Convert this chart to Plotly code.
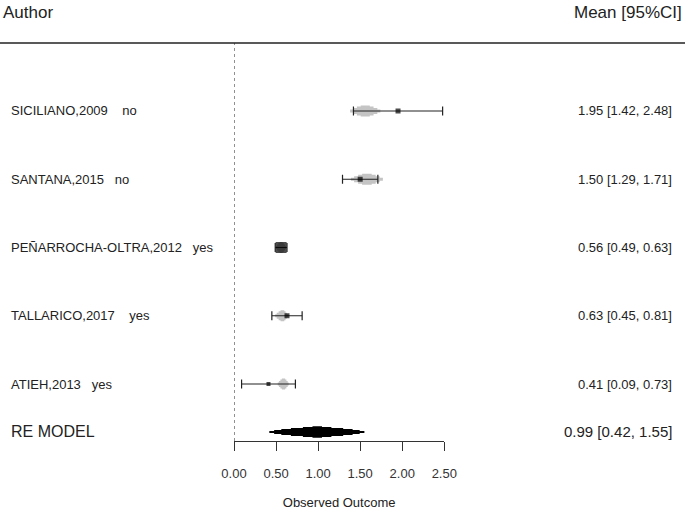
import plotly.graph_objects as go

# ---- data ----
authors = ["SICILIANO,2009", "SANTANA,2015", "PEÑARROCHA-OLTRA,2012", "TALLARICO,2017", "ATIEH,2013"]
groups = ["no", "no", "yes", "yes", "yes"]
gaps = [4, 3, 3, 4, 3]
means = [1.95, 1.50, 0.56, 0.63, 0.41]
lows = [1.42, 1.29, 0.49, 0.45, 0.09]
highs = [2.48, 1.71, 0.63, 0.81, 0.73]
weights_px = [5, 5, 11, 5, 4]
# grey density blobs behind each study
blob_lo = [1.38, 1.39, 0.50, 0.49, 0.52]
blob_mid = [1.56, 1.58, 0.56, 0.58, 0.59]
blob_hi = [1.74, 1.77, 0.62, 0.64, 0.65]
rows = [5, 4, 3, 2, 1]

re_label = "RE MODEL"
re_mean, re_low, re_high = 0.99, 0.42, 1.55
re_row = 0.297

tick_vals = [0.0, 0.5, 1.0, 1.5, 2.0, 2.5]
tick_text = ["0.00", "0.50", "1.00", "1.50", "2.00", "2.50"]

PX = 68.26  # pixels per y unit


def stepped(center, lo, hi, y, fracs, halfh_px):
    xs, ys = [], []
    lefts = [center - f * (center - lo) for f in fracs]
    rights = [center + f * (hi - center) for f in fracs]
    hs = [h / PX for h in halfh_px]
    for i in range(len(fracs)):
        xs += [lefts[i], lefts[i]]
        ys += [y + (hs[i - 1] if i > 0 else 0), y + hs[i]]
    for i in reversed(range(len(fracs))):
        xs += [rights[i], rights[i]]
        ys += [y + hs[i], y + (hs[i - 1] if i > 0 else 0)]
    for i in range(len(fracs)):
        xs += [rights[i], rights[i]]
        ys += [y - (hs[i - 1] if i > 0 else 0), y - hs[i]]
    for i in reversed(range(len(fracs))):
        xs += [lefts[i], lefts[i]]
        ys += [y - hs[i], y - (hs[i - 1] if i > 0 else 0)]
    return xs, ys


fig = go.Figure()

# grey blobs
for i in range(len(authors)):
    bx, by = stepped(blob_mid[i], blob_lo[i], blob_hi[i], rows[i],
                     [1.0, 0.8, 0.55, 0.3], [1.5, 3.0, 4.5, 5.5])
    fig.add_trace(go.Scatter(x=bx, y=by, fill="toself", fillcolor="#c4c4c4",
                             line=dict(width=0, color="#c4c4c4"), mode="lines",
                             hoverinfo="skip", showlegend=False))

# whiskers
cap = 4.5 / PX
for i in range(len(authors)):
    fig.add_trace(go.Scatter(
        x=[lows[i], highs[i], None, lows[i], lows[i], None, highs[i], highs[i]],
        y=[rows[i], rows[i], None, rows[i] - cap, rows[i] + cap, None, rows[i] - cap, rows[i] + cap],
        mode="lines", line=dict(color="#222222", width=1.2),
        hoverinfo="skip", showlegend=False))

# squares
fig.add_trace(go.Scatter(x=means, y=rows, mode="markers",
                         marker=dict(symbol="square", size=weights_px, color="black",
                                     line=dict(width=0)),
                         showlegend=False, hoverinfo="x"))

# RE polygon
rx, ry = stepped(re_mean, re_low, re_high, re_row,
                 [1.0, 0.9, 0.75, 0.55, 0.3, 0.1], [1.0, 2.0, 3.0, 4.0, 5.0, 5.8])
fig.add_trace(go.Scatter(x=rx, y=ry, fill="toself", fillcolor="black",
                         line=dict(width=0, color="black"), mode="lines",
                         hoverinfo="skip", showlegend=False))

W, H = 685, 511
ann = []
FONT = "Liberation Sans, Arial, sans-serif"
for i in range(len(authors)):
    ann.append(dict(x=9 / W, xref="paper", y=rows[i], yref="y",
                    text=authors[i] + "\u00a0" * gaps[i] + groups[i],
                    showarrow=False, xanchor="left", yanchor="middle",
                    font=dict(family=FONT, size=13, color="#222")))
    ann.append(dict(x=674 / W, xref="paper", y=rows[i], yref="y",
                    text=f"{means[i]:.2f} [{lows[i]:.2f}, {highs[i]:.2f}]",
                    showarrow=False, xanchor="right", yanchor="middle",
                    font=dict(family=FONT, size=13, color="#222")))
ann.append(dict(x=9 / W, xref="paper", y=re_row, yref="y", text=re_label,
                showarrow=False, xanchor="left", yanchor="middle",
                font=dict(family=FONT, size=16, color="#222")))
ann.append(dict(x=674 / W, xref="paper", y=re_row, yref="y",
                text=f"{re_mean:.2f} [{re_low:.2f}, {re_high:.2f}]",
                showarrow=False, xanchor="right", yanchor="middle",
                font=dict(family=FONT, size=15, color="#222")))
ann.append(dict(x=1 / W, xref="paper", y=1, yref="paper", yshift=31, text="Author",
                showarrow=False, xanchor="left", yanchor="middle",
                font=dict(family=FONT, size=17, color="#222")))
ann.append(dict(x=684 / W, xref="paper", y=1, yref="paper", yshift=31, text="Mean [95%CI]",
                showarrow=False, xanchor="right", yanchor="middle",
                font=dict(family=FONT, size=17, color="#222")))

shapes = [
    dict(type="line", xref="paper", yref="paper", x0=0, x1=1, y0=1, y1=1,
         line=dict(color="#222", width=1.5)),
    dict(type="line", xref="x", yref="paper", x0=0, x1=0, y0=0, y1=1,
         line=dict(color="#222", width=1, dash="dot")),
]

fig.update_layout(
    width=W, height=H,
    margin=dict(l=0, r=0, t=43, b=70, autoexpand=False),
    paper_bgcolor="white", plot_bgcolor="white",
    annotations=ann, shapes=shapes,
    xaxis=dict(domain=[234 / W, 444.3 / W], range=[0, 2.5],
               tickvals=tick_vals, ticktext=tick_text,
               ticks="outside", ticklen=9, tickwidth=1.2, tickcolor="#333",
               ticklabelstandoff=11,
               showline=True, linecolor="#333", linewidth=1.2,
               showgrid=False, zeroline=False, automargin=False,
               tickfont=dict(family=FONT, size=13, color="#333"),
               title=dict(text="Observed Outcome", standoff=18,
                          font=dict(family=FONT, size=13, color="#222"))),
    yaxis=dict(range=[0.165, 5.996], visible=False, showgrid=False, zeroline=False,
               automargin=False),
)

fig.write_html("out.html", config={"displayModeBar": False},
               post_script="document.body.style.margin='0';document.body.style.overflow='hidden';")
